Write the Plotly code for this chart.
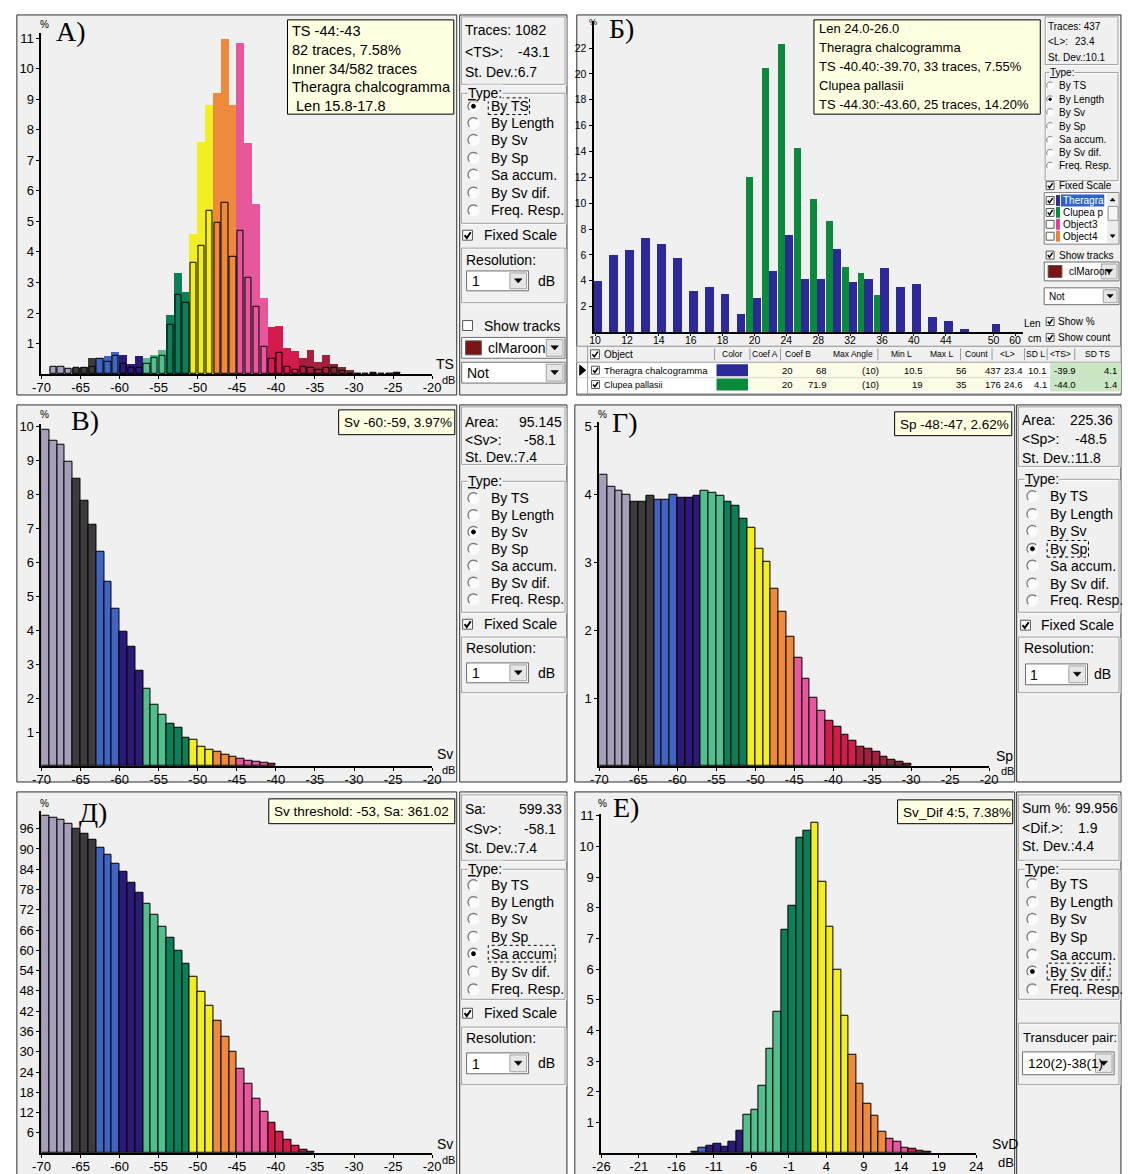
import math
import plotly.graph_objects as go

W, H = 1128, 1174
SANS = "Liberation Sans, Arial, sans-serif"
SERIF = "Liberation Serif, Times New Roman, serif"
BG = "#f0f0f0"

# ------------------------------------------------------------------ data
# Panel А: TS distribution (1 dB bins, value = left edge of bin)
TS_BINS = list(range(-69, -24))
TS_ALL = [0.25, 0.25, 0.2, 0.2, 0.25, 0.55, 0.55, 0.6, 0.72, 0.65, 0.35, 0.6, 0.55, 0.65, 0.8,
          1.95, 3.33, 2.68, 4.6, 7.6, 8.8, 9.2, 10.98, 8.8, 10.85, 7.58, 5.58, 2.5, 1.55, 1.58,
          0.85, 0.75, 0.55, 0.8, 0.4, 0.65, 0.35, 0.25, 0.15, 0.0, 0.0, 0.05, 0.0, 0.04, 0.04]
TS_INNER = [0.25, 0.25, 0.17, 0.2, 0.22, 0.25, 0.5, 0.4, 0.6, 0.35, 0.2, 0.2, 0.35, 0.55, 0.6,
            1.6, 2.6, 2.35, 3.65, 4.2, 5.35, 4.95, 5.6, 3.85, 4.7, 3.15, 2.2, 0.9, 0.5, 0.7,
            0.25, 0.15, 0.25, 0.2, 0.15, 0.2, 0.2, 0.12, 0.0, 0.0, 0.0, 0.05, 0.0, 0.0, 0.05]

# Panel Б: length distribution (cm bins)
LEN_BINS = [10, 11, 12, 13, 14, 15, 16, 17, 18, 19, 20, 22, 24, 26, 28, 30, 32, 34, 36,
            38, 40, 42, 44, 46, 48, 50]
LEN_THERAGRA = [4.0, 6.0, 6.4, 7.3, 6.85, 5.8, 3.2, 3.5, 3.0, 1.4, 2.7, 4.8, 7.55, 4.15, 4.15,
                6.45, 3.9, 4.15, 5.0, 3.5, 3.75, 1.2, 0.9, 0.25, 0.0, 0.7]
LEN_CLUPEA_BINS = [20, 22, 24, 26, 28, 30, 32, 34, 36]
LEN_CLUPEA = [12.0, 20.5, 22.35, 14.3, 10.3, 8.6, 5.1, 4.6, 2.9]
LEN_TICK_BINS = [10, 12, 14, 16, 18, 20, 24, 28, 32, 36, 40, 44, 50]
LEN_TICK_TEXT = ["10", "12", "14", "16", "18", "20", "24", "28", "32", "36", "40", "44", "50"]

# Panel В: Sv distribution
SV_BINS = list(range(-70, -40))
SV_PCT = [9.9, 9.6, 9.46, 8.98, 8.46, 7.83, 7.12, 6.31, 5.43, 4.63, 3.97, 3.51, 2.82, 2.29, 1.8,
          1.51, 1.26, 1.12, 0.85, 0.78, 0.57, 0.49, 0.42, 0.34, 0.27, 0.21, 0.17, 0.13, 0.1, 0.07]

# Panel Г: Sp distribution
SP_BINS = list(range(-70, -30))
SP_PCT = [4.29, 4.11, 4.05, 4.0, 3.9, 3.9, 3.98, 3.92, 3.92, 4.0, 3.95, 3.96, 3.98, 4.06, 4.02,
          3.98, 3.9, 3.83, 3.64, 3.51, 3.2, 3.01, 2.62, 2.28, 1.9, 1.59, 1.28, 1.01, 0.82, 0.67,
          0.58, 0.46, 0.37, 0.28, 0.26, 0.21, 0.14, 0.1, 0.06, 0.03]

# Panel Д: Sa accumulation
SA_BINS = list(range(-70, -35))
SA_ACCUM = [99.9, 99.2, 98.6, 97.5, 96.0, 94.5, 92.6, 90.4, 88.3, 85.7, 83.1, 80.1, 76.9, 73.8,
            70.5, 67.1, 63.7, 59.9, 56.1, 52.2, 47.7, 43.6, 39.2, 34.5, 29.9, 25.0, 20.4, 16.0,
            12.2, 9.0, 6.2, 4.1, 2.2, 1.0, 0.5]

# Panel Е: Sv difference
DIF_BINS = list(range(-14, 18))
DIF_PCT = [0.05, 0.16, 0.25, 0.29, 0.22, 0.36, 0.72, 1.24, 1.4, 2.19, 3.4, 4.61, 7.28, 8.06,
           10.28, 10.5, 10.77, 8.86, 7.38, 5.99, 4.48, 3.21, 2.27, 1.62, 1.21, 0.7, 0.46, 0.36,
           0.19, 0.13, 0.09, 0.05]

DB_TICKS = list(range(-70, -15, 5))
DIF_TICKS = list(range(-26, 25, 5))

RADIO_LABELS = ["By TS", "By Length", "By Sv", "By Sp", "Sa accum.", "By Sv dif.", "Freq. Resp."]

TOOLTIP_A = ["TS -44:-43", "82 traces, 7.58%", "Inner 34/582 traces", "Theragra chalcogramma",
             " Len 15.8-17.8"]
TOOLTIP_B = ["Len 24.0-26.0", "Theragra chalcogramma", "TS -40.40:-39.70, 33 traces, 7.55%",
             "Clupea pallasii", "TS -44.30:-43.60, 25 traces, 14.20%"]

TABLE_HEAD = ["Color", "Coef A", "Coef B", "Max Angle", "Min L", "Max L", "Count",
              "&lt;L&gt;", "SD L", "&lt;TS&gt;", "SD TS"]
TABLE_NAMES = ["Theragra chalcogramma", "Clupea pallasii"]
TABLE_ROW1 = ["20", "68", "(10)", "10.5", "56", "437", "23.4", "10.1", "-39.9", "4.1"]
TABLE_ROW2 = ["20", "71.9", "(10)", "19", "35", "176", "24.6", "4.1", "-44.0", "1.4"]

C_THERAGRA = "#2b2a98"
C_CLUPEA = "#0b8a3c"


def col_db(b):
    if b <= -67: return "#a79fb9"
    if b <= -64: return "#3d3b3e"
    if b <= -61: return "#4164c0"
    if b <= -58: return "#2c1a78"
    if b <= -55: return "#52be8c"
    if b <= -52: return "#0b7f58"
    if b <= -49: return "#f2ee22"
    if b <= -46: return "#ee8a3e"
    if b <= -42: return "#e6579c"
    if b <= -38: return "#d41c4c"
    if b <= -34: return "#a3213e"
    return "#7a2c35"


def col_dif(b):
    if b <= -14: return "#3d3b3e"
    if b <= -13: return "#4164c0"
    if b <= -8: return "#2c1a78"
    if b <= -3: return "#52be8c"
    if b <= 1: return "#0b7f58"
    if b <= 6: return "#f2ee22"
    if b <= 11: return "#ee8a3e"
    if b <= 14: return "#e6579c"
    if b <= 16: return "#d41c4c"
    return "#7a2c35"


# ------------------------------------------------------------------ helpers
shapes, ann = [], []


def px(x): return x / W
def py(y): return 1 - y / H


def rect(x0, y0, x1, y1, fill=None, line="#000", lw=1, layer="above", dash=None):
    shapes.append(dict(type="rect", xref="paper", yref="paper", x0=px(x0), x1=px(x1),
                       y0=py(y1), y1=py(y0), layer=layer,
                       fillcolor=fill if fill else "rgba(0,0,0,0)",
                       line=dict(color=line if line else "rgba(0,0,0,0)",
                                 width=lw if line else 0, dash=dash)))


def seg(x0, y0, x1, y1, color="#000", lw=1, layer="above"):
    shapes.append(dict(type="line", xref="paper", yref="paper", x0=px(x0), x1=px(x1),
                       y0=py(y0), y1=py(y1), layer=layer, line=dict(color=color, width=lw)))


def path(pts, fill=None, color="#000", lw=1, close=True):
    d = "M " + " L ".join(f"{px(x):.5f},{py(y):.5f}" for x, y in pts) + (" Z" if close else "")
    shapes.append(dict(type="path", xref="paper", yref="paper", path=d, layer="above",
                       fillcolor=fill if fill else "rgba(0,0,0,0)",
                       line=dict(color=color, width=lw)))


def circ(cx, cy, r, fill, line="#808080", lw=1):
    shapes.append(dict(type="circle", xref="paper", yref="paper", x0=px(cx - r), x1=px(cx + r),
                       y0=py(cy + r), y1=py(cy - r), layer="above", fillcolor=fill,
                       line=dict(color=line, width=lw)))


def arc(cx, cy, r, a0, a1, color, lw=1.2):
    pts = []
    for k in range(13):
        a = math.radians(a0 + (a1 - a0) * k / 12)
        pts.append((cx + r * math.cos(a), cy - r * math.sin(a)))
    path(pts, color=color, lw=lw, close=False)


def T(x, y, s, size=14, anchor="left", color="#000", family=SANS, bg=None):
    a = dict(x=px(x), y=py(y), xref="paper", yref="paper", text=s, showarrow=False,
             xanchor=anchor, yanchor="middle", borderpad=0,
             font=dict(size=size, color=color, family=family))
    if bg:
        a["bgcolor"] = bg
    ann.append(a)


def group(x0, y0, x1, y1):
    rect(x0 + 1, y0 + 1, x1 + 1, y1 + 1, line="#ffffff")
    rect(x0, y0, x1, y1, line="#a0a0a0")


def tri(cx, cy, w=7, h=4, up=False):
    if up:
        path([(cx - w / 2, cy + h / 2), (cx + w / 2, cy + h / 2), (cx, cy - h / 2)], fill="#000", lw=0.5)
    else:
        path([(cx - w / 2, cy - h / 2), (cx + w / 2, cy - h / 2), (cx, cy + h / 2)], fill="#000", lw=0.5)


def cbox(x, y, s, checked):
    rect(x, y - s / 2, x + s, y + s / 2, fill="#ffffff", line="#555555")
    if checked:
        path([(x + s * 0.2, y), (x + s * 0.42, y + s * 0.28), (x + s * 0.82, y - s * 0.3)],
             color="#000", lw=2 if s >= 10 else 1.5, close=False)


def combo(x0, y0, x1, y1, text, fs=14, swatch=None):
    rect(x0, y0, x1, y1, fill="#ffffff", line="#6e6e6e")
    bw = min(17, (y1 - y0) - 3)
    tx = x0 + 4
    if swatch:
        hgt = (y1 - y0) - 7
        rect(x0 + 4, y0 + 3.5, x0 + 4 + hgt + 2, y1 - 3.5, fill=swatch, line="#555555")
        tx = x0 + hgt + 12
    T(tx, (y0 + y1) / 2 + 0.5, text, fs)
    rect(x1 - bw - 2, y0 + 2, x1 - 2, y1 - 2, fill="#e6e6e6", line="#a0a0a0")
    tri(x1 - 2 - bw / 2, (y0 + y1) / 2, w=max(5, bw * 0.45), h=max(3, bw * 0.25))


def radios(cx, tx, ys, sel, r=5.5, fs=14, focus=False, labels=RADIO_LABELS, focus_w=None):
    for i, (y, lab) in enumerate(zip(ys, labels)):
        circ(cx, y, r, "#fbfbfb", "rgba(0,0,0,0)", 0)
        arc(cx, y, r, 45, 225, "#7a7a7a", 1.3 if r > 4 else 1)
        arc(cx, y, r, 225, 405, "#ffffff", 1.0)
        if i == sel:
            circ(cx, y, r * 0.36, "#000000", "#000000")
            if focus:
                rect(tx - 2, y - fs * 0.6, tx + focus_w, y + fs * 0.6, line="#000", lw=1, dash="dot")
        T(tx, y, lab, fs)


def tooltip(x0, y0, x1, y1, lines, ys, fs):
    rect(x0, y0, x1, y1, fill="#ffffe1", line="#000000")
    for s, y in zip(lines, ys):
        T(x0 + 4, y, s, fs)


# ------------------------------------------------------------------ panel frames
def frame(x0, y0, x1, y1):
    rect(x0, y0, x1, y1, fill=BG, line="#2e2e2e", lw=1, layer="below")

for fr in [(8, 10, 455, 393), (458, 10, 567, 393), (577, 10, 1130, 393),
           (8, 403, 455, 783), (458, 403, 567, 783), (575, 403, 1022, 783), (1024, 403, 1130, 783),
           (8, 793, 455, 1180), (458, 793, 567, 1180), (575, 793, 1022, 1180), (1024, 793, 1130, 1180)]:
    frame(*fr)

# ------------------------------------------------------------------ axes
layout_axes = {}
traces = []


def add_axes(n, xpx, xr, ypx, yr, xtv, xtt, ytv, xfont=13, yfont=13, xstand=-3, xticklen=3):
    sx = "" if n == 1 else str(n)
    common = dict(showline=True, linecolor="#000", linewidth=2, ticks="outside",
                  tickcolor="#000", tickwidth=1, showgrid=False, zeroline=False, fixedrange=True,
                  tickmode="array")
    layout_axes["xaxis" + sx] = dict(domain=[xpx[0] / W, xpx[1] / W], range=xr, anchor="y" + sx,
                                     tickvals=xtv, ticktext=xtt, ticklen=xticklen,
                                     ticklabelstandoff=xstand,
                                     tickfont=dict(family=SANS, size=xfont, color="#000"), **common)
    layout_axes["yaxis" + sx] = dict(domain=[1 - ypx[1] / H, 1 - ypx[0] / H], range=yr, anchor="x" + sx,
                                     tickvals=ytv, ticktext=[str(v) for v in ytv], ticklen=3,
                                     tickfont=dict(family=SANS, size=yfont, color="#000"), **common)
    return "x" + sx, "y" + sx


def bars(ax, bins, vals, colors, width=1.0, lw=1):
    traces.append(go.Bar(x=[b + 0.5 for b in bins], y=vals, width=width,
                         marker=dict(color=colors, line=dict(color="#000", width=lw)),
                         xaxis=ax[0], yaxis=ax[1], showlegend=False, hoverinfo="skip"))

dbt = [str(v) for v in DB_TICKS]

# ---- Panel А
axA = add_axes(1, (33, 430), [-70, -20], (28, 372), [0, (372 - 28) / 30.79],
               DB_TICKS, dbt, list(range(1, 12)))
bars(axA, TS_BINS, TS_ALL, [col_db(b) for b in TS_BINS], width=1.0, lw=0)
bars(axA, TS_BINS, TS_INNER, [col_db(b) for b in TS_BINS], width=0.8, lw=1)

# ---- Panel Б
len_idx = [LEN_BINS.index(b) for b in LEN_BINS]
axB = add_axes(2, (594, 1030), [-0.25, 26.67], (16, 330), [0, (330 - 16) / 13.03],
               [LEN_BINS.index(b) - 0.15 for b in LEN_TICK_BINS] + [26.2], LEN_TICK_TEXT + ["60"],
               list(range(2, 23, 2)), xfont=10.5, yfont=10.5, xstand=-5, xticklen=2)
traces.append(go.Bar(x=len_idx, y=LEN_THERAGRA, width=0.53, offset=-0.28,
                     marker=dict(color=C_THERAGRA, line=dict(width=0)),
                     xaxis=axB[0], yaxis=axB[1], showlegend=False, hoverinfo="skip"))
traces.append(go.Bar(x=[LEN_BINS.index(b) for b in LEN_CLUPEA_BINS], y=LEN_CLUPEA, width=0.43,
                     offset=-0.71, marker=dict(color=C_CLUPEA, line=dict(width=0)),
                     xaxis=axB[0], yaxis=axB[1], showlegend=False, hoverinfo="skip"))

# ---- Panel В
axV = add_axes(3, (33, 430), [-70, -20], (422, 767), [0, (767 - 422) / 34.2],
               DB_TICKS, dbt, list(range(1, 11)))
bars(axV, SV_BINS, SV_PCT, [col_db(b) for b in SV_BINS])

# ---- Panel Г
axG = add_axes(4, (600, 996), [-70, -20], (420, 767), [0, (767 - 420) / 68.4],
               DB_TICKS, dbt, list(range(1, 6)))
bars(axG, SP_BINS, SP_PCT, [col_db(b) for b in SP_BINS])

# ---- Panel Д
axD = add_axes(5, (33, 430), [-70, -20], (812, 1157), [0, (1157 - 812) / 3.406],
               DB_TICKS, dbt, list(range(6, 97, 6)))
bars(axD, SA_BINS, SA_ACCUM, [col_db(b) for b in SA_BINS])

# ---- Panel Е
axE = add_axes(6, (602, 983), [-26, 24], (815, 1157), [0, (1157 - 815) / 30.9],
               DIF_TICKS, [str(v) for v in DIF_TICKS], list(range(1, 12)))
bars(axE, DIF_BINS, DIF_PCT, [col_dif(b) for b in DIF_BINS])

# ------------------------------------------------------------------ chart labels
# А
T(47, 27, "А)", 28, family=SERIF)
T(36, 20, "%", 10, anchor="center")
T(443, 362, "TS", 14, anchor="center")
T(447, 378, "dB", 11, anchor="center")
tooltip(283, 15, 452, 110, TOOLTIP_A, [26, 45, 64, 83, 102], 14.5)
# Б
T(609, 24, "Б)", 28, family=SERIF)
T(593, 17, "%", 9, anchor="center")
T(1050, 321, "Len", 10, anchor="right")
T(1034, 336, "cm", 10)
tooltip(818, 15, 1048, 110, TOOLTIP_B, [24, 43, 62, 81, 100], 13)
# В
T(62, 419, "В)", 28, family=SERIF)
T(36, 413, "%", 10, anchor="center")
T(443, 755, "Sv", 14, anchor="center")
T(447, 771, "dB", 11, anchor="center")
tooltip(335, 408, 453, 433, ["Sv -60:-59, 3.97%"], [420.5], 13.5)
# Г
T(612, 421, "Г)", 28, family=SERIF)
T(603, 413, "%", 10, anchor="center")
T(1012, 757, "Sp", 14, anchor="center")
T(1015, 772, "dB", 11, anchor="center")
tooltip(900, 410, 1019, 434, ["Sp -48:-47, 2.62%"], [422.5], 13.5)
# Д
T(70, 814, "Д)", 28, family=SERIF)
T(36, 805, "%", 10, anchor="center")
T(443, 1148, "Sv", 14, anchor="center")
T(447, 1164, "dB", 11, anchor="center")
tooltip(264, 800, 453, 825, ["Sv threshold: -53, Sa: 361.02"], [812.5], 13.5)
# Е
T(613, 809, "Е)", 28, family=SERIF)
T(603, 805, "%", 10, anchor="center")
T(1012, 1148, "SvD", 14, anchor="center")
T(1013, 1166, "dB", 13, anchor="center")
tooltip(903, 801, 1020, 825, ["Sv_Dif 4:5, 7.38%"], [813.5], 13.5)

# ------------------------------------------------------------------ UI columns
UNDERLINED_TYPE = "<u>T</u>ype:"

# Column А
group(460, 12, 565, 80)
T(462, 25, "Traces: 1082"); T(462, 47, "&lt;TS&gt;:"); T(516, 47, "-43.1"); T(462, 68, "St. Dev.:6.7")
group(460, 89, 565, 220)
T(465, 89, UNDERLINED_TYPE, 14, bg=BG)
radios(472, 489, [102, 119, 136, 154, 171, 189, 207], 0, focus=True, focus_w=40)
cbox(461, 232, 10, True); T(482, 232, "Fixed Scale")
group(460, 245, 565, 300)
T(463, 257, "Resolution:")
combo(465, 268, 528, 288, "1")
T(537, 278, "dB")
cbox(461, 323, 10, False); T(482, 323, "Show tracks")
combo(460, 335, 565, 356, "clMaroon", swatch="#7d1414")
combo(460, 360, 565, 381, "Not")

# Column Б (small)
group(1053, 12, 1127, 60)
T(1055, 22, "Traces: 437", 10); T(1055, 37, "&lt;L&gt;:", 10); T(1082, 37, "23.4", 10)
T(1055, 53, "St. Dev.:10.1", 10)
group(1053, 68, 1127, 177)
T(1057, 68, UNDERLINED_TYPE, 10, bg=BG)
radios(1058, 1066, [81, 95, 108, 122, 136, 149, 162], 1, r=3.5, fs=10)
cbox(1054, 182, 8, True); T(1066, 182, "Fixed Scale", 10)
rect(1052, 189, 1128, 241, fill="#ffffff", line="#808080")
obj_names = ["Theragra", "Clupea p", "Object3", "Object4"]
obj_cols = [C_THERAGRA, C_CLUPEA, "#e0409a", "#f08030"]
for i, (nm, c) in enumerate(zip(obj_names, obj_cols)):
    y = 197 + 12 * i
    cbox(1054, y, 8, i < 2)
    rect(1064, y - 5.5, 1068, y + 5.5, fill=c, line=None)
    if i == 0:
        rect(1069, y - 6, 1113, y + 6, fill="#3163c5", line=None)
        T(1070, y, nm, 10, color="#ffffff")
    else:
        T(1070, y, nm, 10)
rect(1116, 190, 1127, 240, fill="#ececec", line=None)
tri(1121.5, 196, w=5, h=3, up=True)
rect(1117, 203, 1127, 217, fill="#f6f6f6", line="#999999")
tri(1121.5, 233, w=5, h=3)
cbox(1054, 252, 8, True); T(1066, 252, "Show tracks", 10)
combo(1052, 259, 1128, 278, "clMaroon", 10, swatch="#7d1414")
combo(1052, 285, 1128, 302, "Not", 10)
cbox(1054, 319, 8, True); T(1065, 319, "Show %", 10)
cbox(1054, 335, 8, True); T(1065, 335, "Show count", 10)

# Table in panel Б
rect(577, 344, 1130, 392, fill="#ffffff", line="#808080")
rect(577, 344, 1130, 360, fill=BG, line="#a0a0a0")
row_ys = [368, 382.5]
for y in row_ys:
    rect(753, y - 7, 1000, y + 7, fill="#fbfbe6", line=None)
    rect(1058, y - 7, 1130, y + 7, fill="#c9e7c2", line=None)
for x in [717, 753, 784, 883, 967, 999, 1032, 1055, 1083]:
    seg(x, 346, x, 358, color="#9a9a9a")
seg(577, 375.5, 1130, 375.5, color="#d8d8d8")
seg(588, 344, 588, 392, color="#a0a0a0")
cbox(591, 352, 9, True); T(604, 352, "Object", 10)
head_x = [735, 768, 802, 858, 907, 948, 983, 1015, 1043, 1069, 1106]
for hx, h in zip(head_x, TABLE_HEAD):
    T(hx, 352, h, 8.5, anchor="center")
path([(580, 363), (580, 373), (586, 368)], fill="#000")
val_right = [798, 832, 885, 930, 975, 1009, 1031, 1056, 1085, 1127]
for r, (y, nm, vals, c) in enumerate(zip(row_ys, TABLE_NAMES, [TABLE_ROW1, TABLE_ROW2],
                                         [C_THERAGRA, C_CLUPEA])):
    cbox(592, y, 8, True)
    T(604, y, nm, 9.5 if r == 0 else 9)
    rect(719, y - 6, 751, y + 6, fill=c, line=None)
    for vx, v in zip(val_right, vals):
        T(vx, y, v, 9.5, anchor="right")

# Column В
group(460, 405, 565, 463)
T(462, 420, "Area:"); T(517, 420, "95.145"); T(462, 438, "&lt;Sv&gt;:"); T(522, 438, "-58.1")
T(462, 455, "St. Dev.:7.4")
group(460, 480, 565, 612)
T(465, 480, UNDERLINED_TYPE, 14, bg=BG)
radios(472, 489, [497, 514, 531, 548, 565, 582, 599], 2)
cbox(461, 624, 10, True); T(482, 624, "Fixed Scale")
group(460, 637, 565, 693)
T(463, 648, "Resolution:")
combo(465, 663, 528, 683, "1")
T(537, 673, "dB")

# Column Г
group(1026, 405, 1128, 465)
T(1028, 418, "Area:"); T(1077, 418, "225.36"); T(1028, 437, "&lt;Sp&gt;:"); T(1082, 437, "-48.5")
T(1028, 456, "St. Dev.:11.8")
group(1026, 478, 1128, 612)
T(1031, 478, UNDERLINED_TYPE, 14, bg=BG)
radios(1040, 1057, [495, 513, 530, 548, 565, 583, 600], 3, focus=True, focus_w=40)
cbox(1028, 625, 10, True); T(1048, 625, "Fixed Scale")
group(1026, 637, 1128, 693)
T(1030, 648, "Resolution:")
combo(1033, 664, 1096, 685, "1")
T(1102, 674, "dB")

# Column Д
group(460, 796, 565, 862)
T(462, 810, "Sa:"); T(517, 810, "599.33"); T(462, 830, "&lt;Sv&gt;:"); T(522, 830, "-58.1")
T(462, 850, "St. Dev.:7.4")
group(460, 871, 565, 1002)
T(465, 871, UNDERLINED_TYPE, 14, bg=BG)
radios(472, 489, [887, 904, 921, 939, 956, 974, 992], 4, focus=True, focus_w=66)
cbox(461, 1016, 10, True); T(482, 1016, "Fixed Scale")
group(460, 1030, 565, 1088)
T(463, 1041, "Resolution:")
combo(465, 1056, 528, 1077, "1")
T(537, 1066, "dB")

# Column Е
group(1026, 796, 1128, 862)
T(1028, 809, "Sum %: 99.956"); T(1028, 829, "&lt;Dif.&gt;:"); T(1085, 829, "1.9")
T(1028, 848, "St. Dev.:4.4")
group(1026, 871, 1128, 1002)
T(1031, 871, UNDERLINED_TYPE, 14, bg=BG)
radios(1040, 1057, [886, 904, 921, 939, 957, 974, 992], 5, focus=True, focus_w=62)
group(1026, 1026, 1128, 1088)
T(1029, 1040, "Transducer pair:", 13)
combo(1030, 1055, 1123, 1078, "120(2)-38(1)", 13.5)

# ------------------------------------------------------------------ figure
fig = go.Figure(data=traces)
fig.update_layout(width=W, height=H, autosize=False, margin=dict(l=0, r=0, t=0, b=0, pad=0),
                  paper_bgcolor="#ffffff", plot_bgcolor="rgba(0,0,0,0)", barmode="overlay",
                  bargap=0, showlegend=False, hovermode=False, shapes=shapes, annotations=ann,
                  **layout_axes)
fig.write_html("out.html", include_plotlyjs=True, config={"displayModeBar": False})
